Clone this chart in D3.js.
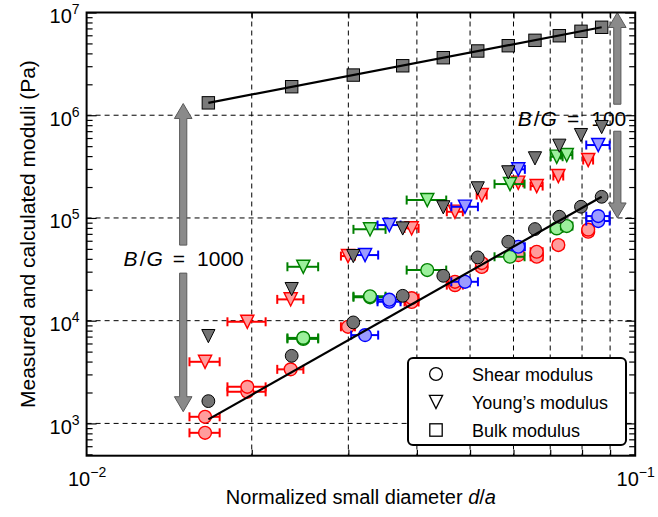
<!DOCTYPE html>
<html><head><meta charset="utf-8">
<script src="https://cdn.jsdelivr.net/npm/d3@7"></script>
<style>
body{margin:0;background:#fff}
svg{display:block}
text{font-family:"Liberation Sans",Arial,Helvetica,sans-serif;fill:#000}
</style>
</head><body>
<svg id="chart" width="658" height="517"></svg>
<script>
// ---------- DATA ----------
// calculated values (gray markers), x = normalized small diameter d/a
const dCalc     = [0.01667, 0.02365, 0.03063, 0.03769, 0.04469, 0.05164, 0.05870, 0.06566, 0.07273, 0.07965, 0.08687];
const bulkCalc  = [1.32e6, 1.895e6, 2.46e6, 3.03e6, 3.63e6, 4.22e6, 4.75e6, 5.36e6, 5.94e6, 6.56e6, 7.18e6];
const shearCalc = [1648, 4550, 9620, 17470, 27350, 41300, 58600, 78000, 102800, 128600, 160700];
const youngCalc = [7080, 20310, 42560, 79000, 126900, 194100, 277900, 380400, 504500, 641000, 767000];
// fit lines [d/a, modulus]
const shearFit = [[0.01667, 1094], [0.08687, 160700]];
const bulkFit  = [[0.01667, 1.32e6], [0.08687, 7.18e6]];
// measured values: [d/a, modulus (Pa), d/a error]
const redShear = [[0.01644,810,0.00104],[0.01644,1160,0.00104],[0.01963,2030,0.00157],[0.01963,2270,0.00157],
  [0.02355,3360,0.00129],[0.02996,8720,0.00088],[0.03913,15200,0.00115],[0.03913,16600,0.00115],
  [0.04693,22200,0.00158],[0.04693,23900,0.00158],[0.05251,33300,0.0011],[0.05251,36400,0.0011],
  [0.06121,43500,0.0013],[0.06614,41900,0.00167],[0.06614,46900,0.00167],[0.07243,54500,0.0015],
  [0.08210,73400,0.0017],[0.08210,77000,0.0017]];
const redYoung = [[0.01644,3980,0.00104],[0.01963,9757,0.00157],[0.02355,16120,0.00129],[0.02996,42560,0.00088],
  [0.03913,79170,0.00115],[0.04693,114900,0.00158],[0.05251,167100,0.0011],[0.06121,220100,0.0013],
  [0.06614,204400,0.00167],[0.07243,255900,0.0015],[0.08210,366300,0.0017]];
const greenShear = [[0.02483,6650,0.0016],[0.02483,6800,0.0016],[0.03286,16900,0.00221],[0.03286,17300,0.00221],
  [0.04178,31100,0.00346],[0.05913,41900,0.00372],[0.07194,79170,0.0018],[0.07503,83400,0.0018]];
const greenYoung = [[0.02483,33480,0.0016],[0.03286,77450,0.00221],[0.04178,149400,0.00346],[0.05913,213800,0.00372],
  [0.07194,394400,0.0018],[0.07503,409700,0.0018]];
const blueShear = [[0.03218,7240,0.00182],[0.03563,15280,0.00172],[0.03563,16000,0.00172],[0.04895,23920,0.00273],
  [0.06121,52430,0.00172],[0.08563,93300,0.0042],[0.08563,104300,0.0042]];
const blueYoung = [[0.03218,43540,0.00182],[0.03563,85300,0.00172],[0.04895,128500,0.00273],[0.06121,297400,0.00172],
  [0.08563,512700,0.0042]];
// annotations: [d/a, low, high]
const arrowLeft  = [0.015, 1300, 1.3e6];
const arrowRight = [0.09277, 1e5, 1e7];
const labelLeft  = "1000";
const labelRight = "100";
const legendLabels = ["Shear modulus", "Young\u2019s modulus", "Bulk modulus"];
const xMajor = [0.01, 0.1], xMinor = [0.02,0.03,0.04,0.05,0.06,0.07,0.08,0.09];
const yMajor = [1e3,1e4,1e5,1e6,1e7];
const xDomain = [0.01, 0.1], yDomain = [485, 1e7];

// ---------- LAYOUT ----------
const L = 86.6, R = 635.2, T = 12.5, B = 455.7;
const svg = d3.select("#chart");
const x = d3.scaleLog().domain(xDomain).range([L, R]);
const y = d3.scaleLog().domain(yDomain).range([B, T]);
const yMinor = y.ticks().filter(v => !yMajor.some(m => Math.abs(v - m) / m < 1e-9));

// grid
const grid = svg.append("g").attr("stroke", "#000").attr("stroke-width", 1).attr("stroke-dasharray", "5,4").attr("fill", "none");
grid.selectAll(".gv").data(xMinor).join("line").attr("x1", d => x(d)).attr("x2", d => x(d)).attr("y1", T).attr("y2", B);
grid.selectAll(".gh").data(yMajor.slice(0, 4)).join("line").attr("y1", d => y(d)).attr("y2", d => y(d)).attr("x1", L).attr("x2", R);

// axes ticks (inward)
function cleanAxis(g){ g.select(".domain").remove(); g.selectAll("line").attr("stroke","#000").attr("stroke-width",1.2); }
svg.append("g").attr("transform", `translate(${L},0)`).call(d3.axisLeft(y).tickValues(yMinor).tickSize(-6).tickFormat("")).call(cleanAxis);
svg.append("g").attr("transform", `translate(${R},0)`).call(d3.axisRight(y).tickValues(yMinor).tickSize(-6).tickFormat("")).call(cleanAxis);
svg.append("g").attr("transform", `translate(${R},0)`).call(d3.axisRight(y).tickValues(yMajor).tickSize(-10).tickFormat("")).call(cleanAxis);
svg.append("g").attr("transform", `translate(0,${B})`).call(d3.axisBottom(x).tickValues(xMinor).tickSize(-6).tickFormat("")).call(cleanAxis);
svg.append("g").attr("transform", `translate(0,${T})`).call(d3.axisTop(x).tickValues(xMinor).tickSize(-6).tickFormat("")).call(cleanAxis);

const supFmt = v => { const e = Math.round(Math.log10(v)); return e < 0 ? "\u2212" + (-e) : "" + e; };
const yAx = svg.append("g").attr("transform", `translate(${L},0)`)
  .call(d3.axisLeft(y).tickValues(yMajor).tickSize(-10).tickPadding(7).tickFormat(""));
cleanAxis(yAx);
yAx.selectAll(".tick text").attr("font-size", 20).attr("dy", null).attr("y", 10).each(function(d){
  const t = d3.select(this);
  t.append("tspan").text("10");
  t.append("tspan").attr("font-size", 14).attr("dy", -9).text(supFmt(d));
});
const xAx = svg.append("g").attr("transform", `translate(0,${B})`)
  .call(d3.axisBottom(x).tickValues(xMajor).tickSize(0).tickPadding(0).tickFormat(""));
cleanAxis(xAx);
xAx.selectAll(".tick text").attr("font-size", 20).attr("dy", null).attr("y", 30).attr("text-anchor","middle").each(function(d){
  const t = d3.select(this);
  t.append("tspan").text("10");
  t.append("tspan").attr("font-size", 14).attr("dy", -9).text(supFmt(d));
});

// axis titles
svg.append("text").attr("x", (L + R) / 2).attr("y", 504).attr("text-anchor", "middle").attr("font-size", 20)
  .call(t => { t.append("tspan").text("Normalized small diameter ");
               t.append("tspan").attr("font-style","italic").text("d");
               t.append("tspan").text("/");
               t.append("tspan").attr("font-style","italic").text("a"); });
svg.append("text").attr("transform", `translate(35,${(T + B) / 2}) rotate(-90)`).attr("text-anchor", "middle").attr("font-size", 21)
  .text("Measured and calculated moduli (Pa)");

// arrows
function arrowPath(x0, yTail, yTip){
  const dir = Math.sign(yTip - yTail), hw = 3.6, hh = 8.8, hl = 15;
  const yb = yTip - dir * hl;
  return `M${x0-hw},${yTail}L${x0-hw},${yb}L${x0-hh},${yb}L${x0},${yTip}L${x0+hh},${yb}L${x0+hw},${yb}L${x0+hw},${yTail}Z`;
}
function drawArrow(a, gapUp, gapDown){
  const xc = x(a[0]);
  const mid = y(Math.sqrt(a[1] * a[2]));
  svg.append("path").attr("d", arrowPath(xc, mid - gapUp, y(a[2]))).attr("fill", "#8a8a8a").attr("stroke", "#5a5a5a").attr("stroke-width", 1);
  svg.append("path").attr("d", arrowPath(xc, mid + gapDown, y(a[1]))).attr("fill", "#8a8a8a").attr("stroke", "#5a5a5a").attr("stroke-width", 1);
  return mid;
}
const midL = drawArrow(arrowLeft, 12.5, 15.5);
const midR = drawArrow(arrowRight, 11, 16);

function bgLabel(cx, cy, num){
  const t = svg.append("text").attr("x", cx).attr("y", cy).attr("text-anchor", "middle").attr("font-size", 21);
  t.append("tspan").attr("font-style", "italic").text("B");
  t.append("tspan").attr("dx", 2).text("/");
  t.append("tspan").attr("dx", 1).attr("font-style", "italic").text("G");
  t.append("tspan").attr("dx", 10).text("=");
  t.append("tspan").attr("dx", 12).text(num);
}
bgLabel(x(arrowLeft[0]) + 0.5, midL + 8.5, labelLeft);
bgLabel(x(0.0767), midR + 10.5, labelRight);

// markers
const circ = (g, cx, cy, fill, stroke, sw) => g.append("circle").attr("cx", cx).attr("cy", cy).attr("r", 6.4).attr("fill", fill).attr("stroke", stroke).attr("stroke-width", sw);
const tri = (g, cx, cy, fill, stroke, sw) => g.append("path").attr("d", `M${cx-6.6},${cy-6.6}L${cx+6.6},${cy-6.6}L${cx},${cy+6.6}Z`).attr("fill", fill).attr("stroke", stroke).attr("stroke-width", sw);
const sq = (g, cx, cy, fill, stroke, sw) => g.append("rect").attr("x", cx-6.2).attr("y", cy-6.2).attr("width", 12.4).attr("height", 12.4).attr("fill", fill).attr("stroke", stroke).attr("stroke-width", sw);

function drawSeries(data, shape, fill, stroke){
  const g = svg.append("g");
  data.forEach(d => {
    const cx = x(d[0]), cy = y(d[1]), x0 = x(d[0] - d[2]), x1 = x(d[0] + d[2]);
    g.append("line").attr("x1", x0).attr("x2", x1).attr("y1", cy).attr("y2", cy).attr("stroke", stroke).attr("stroke-width", 2);
    [x0, x1].forEach(xx => g.append("line").attr("x1", xx).attr("x2", xx).attr("y1", cy - 4.5).attr("y2", cy + 4.5).attr("stroke", stroke).attr("stroke-width", 2));
    shape(g, cx, cy, fill, stroke, 1.4);
  });
}
const RED = ["#ff9c9c", "#ff0000"], GREEN = ["#9cf09c", "#008000"], BLUE = ["#9c9cff", "#0000ff"];
drawSeries(redYoung, tri, ...RED);
drawSeries(redShear, circ, ...RED);
drawSeries(greenYoung, tri, ...GREEN);
drawSeries(greenShear, circ, ...GREEN);
drawSeries(blueYoung, tri, ...BLUE);
drawSeries(blueShear, circ, ...BLUE);

const gGray = svg.append("g");
dCalc.forEach((d, i) => {
  tri(gGray, x(d), y(youngCalc[i]), "#737373", "#000", 1);
  circ(gGray, x(d), y(shearCalc[i]), "#737373", "#000", 1);
  sq(gGray, x(d), y(bulkCalc[i]), "#7a7a7a", "#000", 1);
});

const line = d3.line().x(d => x(d[0])).y(d => y(d[1]));
svg.append("path").attr("d", line(shearFit)).attr("stroke", "#000").attr("stroke-width", 2.2).attr("fill", "none");
svg.append("path").attr("d", line(bulkFit)).attr("stroke", "#000").attr("stroke-width", 2.2).attr("fill", "none");

// legend
const lg = svg.append("g");
lg.append("rect").attr("x", 408).attr("y", 358).attr("width", 218).attr("height", 87).attr("rx", 5)
  .attr("fill", "#fff").attr("stroke", "#000").attr("stroke-width", 2);
const shapes = [circ, tri, sq];
legendLabels.forEach((lab, i) => {
  const cy = 374 + i * 28;
  shapes[i](lg, 436, cy, "none", "#000", 1.3);
  lg.append("text").attr("x", 472).attr("y", cy + 6.5).attr("font-size", 18).text(lab);
});

// spines
svg.append("rect").attr("x", L).attr("y", T).attr("width", R - L).attr("height", B - T)
  .attr("fill", "none").attr("stroke", "#000").attr("stroke-width", 2);
</script>
</body></html>
